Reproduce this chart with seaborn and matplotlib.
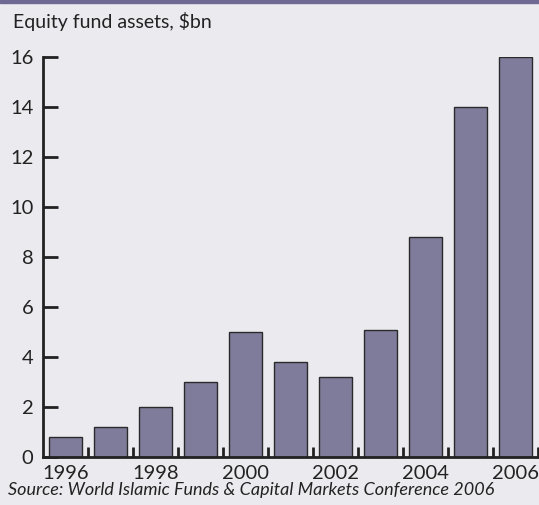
import seaborn as sns
import matplotlib.pyplot as plt
import pandas as pd

years = [1996, 1997, 1998, 1999, 2000, 2001, 2002, 2003, 2004, 2005, 2006]
assets = [0.8, 1.2, 2.0, 3.0, 5.0, 3.8, 3.2, 5.1, 8.8, 14.0, 16.0]
year_labels = ["1996", "1998", "2000", "2002", "2004", "2006"]
y_ticks = [0, 2, 4, 6, 8, 10, 12, 14, 16]

bg = "#ebeaef"
sns.set_style("white")
plt.rcParams["font.family"] = ["Lato", "DejaVu Sans"]

data = pd.DataFrame({"year": years, "assets": assets})

fig = plt.figure(figsize=(5.39, 5.05), dpi=100, facecolor=bg)
ax = fig.add_axes([0.0798, 0.095, 0.918, 0.792], facecolor=bg)

sns.barplot(x="year", y="assets", data=data, color="#7f7b9a", saturation=1,
            width=0.73, edgecolor="#2a2a2a", linewidth=1, ax=ax)

ax.set_xlim(-0.5, 10.5)
ax.set_ylim(0, 16)
ax.set_yticks(y_ticks)
ax.set_yticklabels([str(v) for v in y_ticks], fontsize=14.5, color="#222222")
ax.set_xticks([years.index(int(y)) for y in year_labels])
ax.set_xticklabels(year_labels, fontsize=14.5, color="#222222")
ax.set_xticks([i + 0.5 for i in range(len(years))], minor=True)
ax.tick_params(left=True, bottom=True)
ax.tick_params(axis="x", which="major", length=0, pad=6)
ax.tick_params(axis="x", which="minor", bottom=True, direction="in", length=7, width=2, color="#222222")
ax.tick_params(axis="y", direction="in", length=11, width=2, color="#222222", pad=7)
ax.set_xlabel("")
ax.set_ylabel("")

for side in ["top", "right"]:
    ax.spines[side].set_visible(False)
for side in ["left", "bottom"]:
    ax.spines[side].set_linewidth(2)
    ax.spines[side].set_color("#222222")

fig.text(0.024, 0.957, "Equity fund assets, $bn", fontsize=14, color="#222222", va="center")
fig.text(0.015, 0.03, "Source: World Islamic Funds & Capital Markets Conference 2006",
         fontsize=13, style="italic", color="#222222", va="center")
fig.patches.append(plt.Rectangle((0, 0.994), 1, 0.006, transform=fig.transFigure,
                                 color="#6e6a94", zorder=5))

fig.savefig("out.png", dpi=100, facecolor=bg)
